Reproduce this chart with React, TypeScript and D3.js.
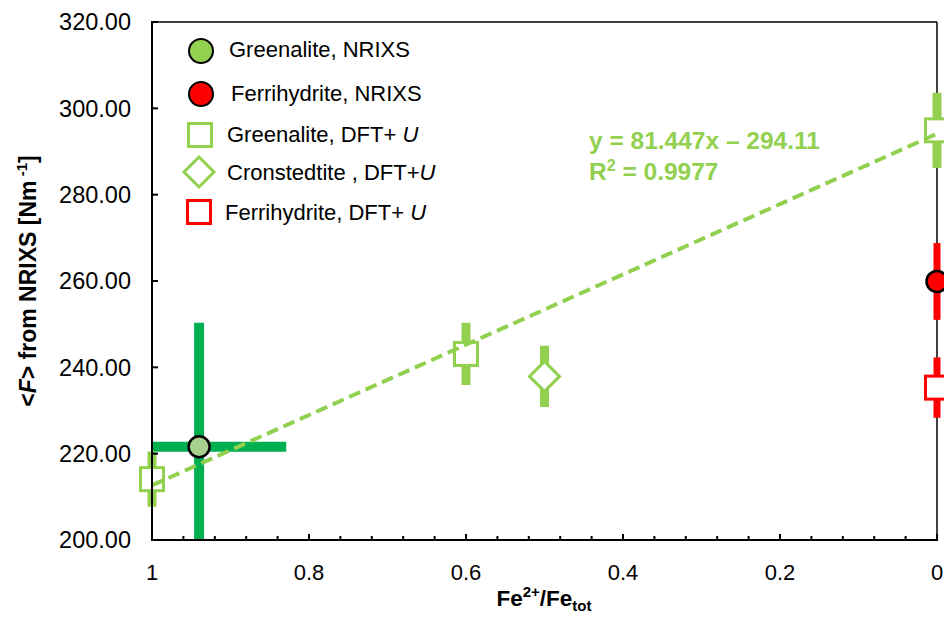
import React from 'react';
import * as d3 from 'd3';

// ---- data ----
const xTicks = [1, 0.8, 0.6, 0.4, 0.2, 0];
const yTicks = [200, 220, 240, 260, 280, 300, 320];

const greenaliteNrixs = [{ x: 0.94, y: 221.6, xErr: 0.111, yErr: 28.7 }];
const ferrihydriteNrixs = [{ x: 0, y: 259.9, yErr: 8.9 }];
const greenaliteDft = [
  { x: 1, y: 214.1, yErr: 6.4 },
  { x: 0.6, y: 243.1, yErr: 7.2 },
  { x: 0, y: 294.9, yErr: 8.7 },
];
const cronstedtiteDft = [{ x: 0.5, y: 237.9, yErr: 7.1 }];
const ferrihydriteDft = [{ x: 0, y: 235.3, yErr: 7.0 }];
const trendSlope = -81.447;
const trendIntercept = 294.11;
const trendX = [1, 0];

const LIGHT = '#92D050';
const DARK = '#00B050';
const RED = '#FF0000';
const FONT = '"Liberation Sans", Arial, sans-serif';

const W = 944;
const H = 619;
const L = 152, R = 937, T = 22, B = 540;

export default function App() {
  const x = d3.scaleLinear().domain([1, 0]).range([L, R]);
  const y = d3.scaleLinear().domain([200, 320]).range([B, T]);
  const minorX = d3.range(0, 1.0001, 0.04);
  const fmt = d3.format('.2f');
  const line = d3.line<number>().x((d) => x(d)).y((d) => y(trendIntercept + trendSlope * d));

  const vBar = (d: any, color: string, w: number, key: string) => (
    <line key={key} x1={x(d.x)} x2={x(d.x)} y1={y(d.y - d.yErr)} y2={y(d.y + d.yErr)} stroke={color} strokeWidth={w} />
  );
  const sq = (cx: number, cy: number, color: string, key?: string) => (
    <rect key={key} x={cx - 11.5} y={cy - 11.5} width={23} height={23} fill="#fff" stroke={color} strokeWidth={3} />
  );
  const diamond = (cx: number, cy: number, color: string, key?: string) => (
    <path key={key} d={`M${cx},${cy - 15}L${cx + 15},${cy}L${cx},${cy + 15}L${cx - 15},${cy}Z`} fill="#fff" stroke={color} strokeWidth={3} />
  );

  return (
    <svg width={W} height={H} style={{ position: 'absolute', left: 0, top: 0, display: 'block', background: '#fff' }} fontFamily={FONT}>
      <defs>
        <clipPath id="plot">
          <rect x={L} y={T} width={R - L} height={B - T} />
        </clipPath>
      </defs>
      {/* frame */}
      <line x1={L} x2={R} y1={T} y2={T} stroke="#000" strokeWidth={1.5} />
      <line x1={R} x2={R} y1={T} y2={B} stroke="#000" strokeWidth={1.5} />
      {/* error bars */}
      <g clipPath="url(#plot)">
        {greenaliteNrixs.map((d, i) => (
          <g key={'gn' + i}>
            <line x1={x(d.x + d.xErr)} x2={x(d.x - d.xErr)} y1={y(d.y)} y2={y(d.y)} stroke={DARK} strokeWidth={10} />
            <line x1={x(d.x)} x2={x(d.x)} y1={y(d.y - d.yErr)} y2={y(d.y + d.yErr)} stroke={DARK} strokeWidth={10} />
          </g>
        ))}
      </g>
      {greenaliteDft.map((d, i) => vBar(d, LIGHT, 9, 'gd' + i))}
      {cronstedtiteDft.map((d, i) => vBar(d, LIGHT, 9, 'cd' + i))}
      {ferrihydriteNrixs.map((d, i) => vBar(d, RED, 7, 'fn' + i))}
      {ferrihydriteDft.map((d, i) => vBar(d, RED, 7, 'fd' + i))}
      {/* markers */}
      {greenaliteDft.map((d, i) => sq(x(d.x), y(d.y), LIGHT, 'gds' + i))}
      {cronstedtiteDft.map((d, i) => diamond(x(d.x), y(d.y), LIGHT, 'cdd' + i))}
      {ferrihydriteDft.map((d, i) => sq(x(d.x), y(d.y), RED, 'fds' + i))}
      {greenaliteNrixs.map((d, i) => (
        <circle key={'gnc' + i} cx={x(d.x)} cy={y(d.y)} r={10.5} fill="#A9D18E" stroke="#000" strokeWidth={2.5} />
      ))}
      {ferrihydriteNrixs.map((d, i) => (
        <circle key={'fnc' + i} cx={x(d.x)} cy={y(d.y)} r={10.5} fill={RED} stroke="#000" strokeWidth={2.5} />
      ))}
      {/* trend line */}
      <path d={line(trendX) || ''} fill="none" stroke={LIGHT} strokeWidth={4} strokeDasharray="12 6" />
      {/* axes */}
      <line x1={L} x2={L} y1={T - 1} y2={B + 1} stroke="#000" strokeWidth={2} />
      <line x1={L - 1} x2={R + 1} y1={B} y2={B} stroke="#000" strokeWidth={2} />
      {yTicks.map((t) => (
        <g key={'yt' + t}>
          <line x1={L} x2={L + 6} y1={y(t)} y2={y(t)} stroke="#000" strokeWidth={2} />
          <text x={131} y={y(t)} dy="0.36em" textAnchor="end" fontSize={23.5} fill="#000">{fmt(t)}</text>
        </g>
      ))}
      {minorX.map((t, i) => {
        const major = i % 5 === 0;
        return <line key={'xm' + i} x1={x(t)} x2={x(t)} y1={B} y2={B - (major ? 6 : 4)} stroke="#000" strokeWidth={2} />;
      })}
      {xTicks.map((t) => (
        <text key={'xt' + t} x={x(t)} y={580} textAnchor="middle" fontSize={22} fill="#000">{String(t)}</text>
      ))}
      {/* axis titles */}
      <text x={544} y={606} textAnchor="middle" fontSize={22.5} fontWeight="bold" fill="#000">
        Fe<tspan dy={-9} fontSize={15}>2+</tspan><tspan dy={9}>/Fe</tspan><tspan dy={5} fontSize={15}>tot</tspan>
      </text>
      <text transform={`translate(36,${(T + B) / 2}) rotate(-90)`} textAnchor="middle" fontSize={23} fontWeight="bold" fill="#000">
        &lt;<tspan fontStyle="italic">F</tspan>&gt; from NRIXS [Nm<tspan dy={-9} fontSize={15}> -1</tspan><tspan dy={9}>]</tspan>
      </text>
      {/* regression label */}
      <text x={589} y={149} fontSize={24.5} fontWeight="bold" fill={LIGHT}>y = 81.447x – 294.11</text>
      <text x={589} y={180} fontSize={24.5} fontWeight="bold" fill={LIGHT}>
        R<tspan dy={-9} fontSize={16}>2</tspan><tspan dy={9}> = 0.9977</tspan>
      </text>
      {/* legend */}
      <circle cx={201} cy={51} r={12} fill={LIGHT} stroke="#000" strokeWidth={2} />
      <text x={229} y={57} fontSize={22} fill="#000">Greenalite, NRIXS</text>
      <circle cx={201} cy={94} r={12} fill={RED} stroke="#000" strokeWidth={2} />
      <text x={231} y={101} fontSize={22} fill="#000">Ferrihydrite, NRIXS</text>
      {sq(200, 135, LIGHT)}
      <text x={227} y={142} fontSize={22} fill="#000">Greenalite, DFT+ <tspan fontStyle="italic">U</tspan></text>
      {diamond(199, 172, LIGHT)}
      <text x={227} y={180} fontSize={22} fill="#000">Cronstedtite , DFT+<tspan fontStyle="italic">U</tspan></text>
      {sq(199, 212, RED)}
      <text x={225} y={220} fontSize={22} fill="#000">Ferrihydrite, DFT+ <tspan fontStyle="italic">U</tspan></text>
    </svg>
  );
}
